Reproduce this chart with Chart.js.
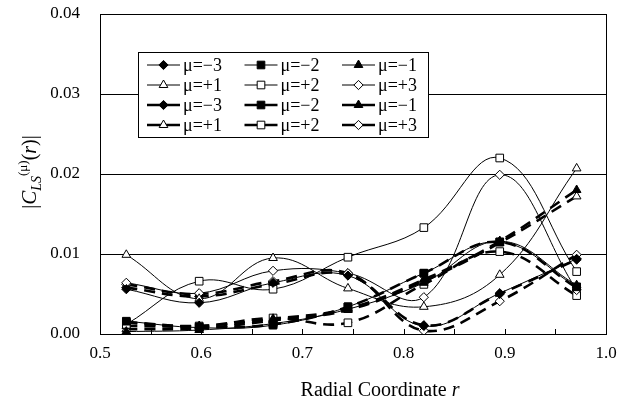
<!DOCTYPE html>
<html>
<head>
<meta charset="utf-8">
<script src="https://cdn.jsdelivr.net/npm/chart.js@4.4.0/dist/chart.umd.min.js"></script>
<style>
html,body{margin:0;padding:0;background:#fff;}
</style>
</head>
<body>
<canvas id="chart" width="631" height="404"></canvas>
<script>
// radial positions of the points
const radius = [0.526, 0.598, 0.671, 0.745, 0.820, 0.895, 0.971];
const muLabels = ["μ=−3", "μ=−2", "μ=−1", "μ=+1", "μ=+2", "μ=+3"];
const xTicks = [0.5, 0.6, 0.7, 0.8, 0.9, 1.0];
const yTicks = [0.00, 0.01, 0.02, 0.03, 0.04];

// first set (thin solid curves)
const solidM3 = [0.0056, 0.0039, 0.0064, 0.0073, 0.0010, 0.0051, 0.0094];
const solidM2 = [0.0016, 0.0008, 0.0011, 0.0034, 0.0076, 0.0115, 0.0059];
const solidM1 = [0.0003, 0.0005, 0.0013, 0.0031, 0.0064, 0.0116, 0.0061];
const solidP1 = [0.0099, 0.0044, 0.0095, 0.0057, 0.0034, 0.0074, 0.0207];
const solidP2 = [0.0012, 0.0066, 0.0056, 0.0096, 0.0133, 0.0220, 0.0078];
const solidP3 = [0.0064, 0.0051, 0.0079, 0.0076, 0.0046, 0.0199, 0.0055];

// second set (thick dashed curves)
const dashedM3 = [0.0058, 0.0047, 0.0062, 0.0074, 0.0011, 0.0050, 0.0093];
const dashedM2 = [0.0014, 0.0009, 0.0012, 0.0034, 0.0076, 0.0115, 0.0058];
const dashedM1 = [0.0010, 0.0010, 0.0019, 0.0032, 0.0068, 0.0116, 0.0180];
const dashedP1 = [0.0006, 0.0007, 0.0017, 0.0030, 0.0066, 0.0114, 0.0172];
const dashedP2 = [0.0015, 0.0010, 0.0020, 0.0014, 0.0062, 0.0103, 0.0048];
const dashedP3 = [0.0062, 0.0050, 0.0066, 0.0076, 0.0004, 0.0041, 0.0099];

const solidSets = [solidM3, solidM2, solidM1, solidP1, solidP2, solidP3];
const dashedSets = [dashedM3, dashedM2, dashedM1, dashedP1, dashedP2, dashedP3];

const markerStyle = ["rectRot", "rect", "triangle", "triangle", "rect", "rectRot"];
const markerSize = [4.6, 5.4, 5, 5, 5.4, 4.6];
const markerFilled = [true, true, true, false, false, false];

const serif = "'Liberation Serif', 'Times New Roman', serif";

function makeSet(vals, i, dashed) {
    return {
        label: muLabels[i],
        data: vals.map((v, k) => ({x: radius[k], y: v})),
        borderColor: "#000",
        borderWidth: dashed ? 2.6 : 1,
        borderDash: dashed ? [11, 7] : [],
        tension: 0.4,
        fill: false,
        pointStyle: markerStyle[i],
        pointRadius: markerSize[i],
        pointBackgroundColor: markerFilled[i] ? "#000" : "#fff",
        pointBorderColor: "#000",
        pointBorderWidth: 1,
        dashedSet: dashed
    };
}

let datasets = [];
solidSets.forEach((s, i) => datasets.push(makeSet(s, i, false)));
dashedSets.forEach((s, i) => datasets.push(makeSet(s, i, true)));

// frame, inner ticks, legend box and axis titles
const decor = {
    id: "decor",
    afterDatasetsDraw(chart) {
        const ctx = chart.ctx;
        const a = chart.chartArea;
        const xs = chart.scales.x;
        ctx.save();
        ctx.strokeStyle = "#000";
        ctx.lineWidth = 1;
        ctx.strokeRect(Math.round(a.left) + 0.5, Math.round(a.top) + 0.5,
            Math.round(a.right - a.left), Math.round(a.bottom - a.top));
        // small ticks pointing into the plot
        for (let v = 0.55; v < 1.0; v += 0.05) {
            const px = Math.round(xs.getPixelForValue(v)) + 0.5;
            ctx.beginPath();
            ctx.moveTo(px, a.bottom);
            ctx.lineTo(px, a.bottom - 5);
            ctx.stroke();
        }

        // legend
        const bx = 138, by = 52, bw = 290, bh = 85;
        ctx.fillStyle = "#fff";
        ctx.fillRect(bx, by, bw, bh);
        ctx.strokeRect(bx + 0.5, by + 0.5, bw, bh);
        ctx.font = "18px " + serif;
        ctx.textBaseline = "middle";
        chart.data.datasets.forEach((ds, i) => {
            const row = Math.floor(i / 3), col = i % 3;
            const lx = 147 + col * 97.5, ly = 65 + row * 20;
            ctx.strokeStyle = "#000";
            ctx.lineWidth = ds.dashedSet ? 2.6 : 1;
            ctx.setLineDash([]);
            ctx.beginPath();
            ctx.moveTo(lx, ly);
            ctx.lineTo(lx + 33, ly);
            ctx.stroke();
            ctx.lineWidth = 1;
            ctx.fillStyle = ds.pointBackgroundColor;
            Chart.helpers.drawPoint(ctx, {pointStyle: ds.pointStyle, radius: ds.pointRadius, rotation: 0, borderWidth: 1}, lx + 16.5, ly);
            ctx.fillStyle = "#000";
            ctx.textAlign = "left";
            ctx.fillText(ds.label, lx + 36, ly + 1);
        });

        // x title
        ctx.textBaseline = "alphabetic";
        drawRich(ctx, [
            {t: "Radial Coordinate ", font: "20px " + serif},
            {t: "r", font: "italic 20px " + serif}
        ], 380, 396);

        // y title, rotated
        ctx.translate(36, 172);
        ctx.rotate(-Math.PI / 2);
        drawRich(ctx, [
            {t: "|", font: "20px " + serif},
            {t: "C", font: "italic 21px " + serif},
            {t: "LS", font: "italic 14px " + serif, dy: 5},
            {t: "(μ)", font: "13px " + serif, dy: -9},
            {t: "(", font: "20px " + serif},
            {t: "r", font: "italic 20px " + serif},
            {t: ")|", font: "20px " + serif}
        ], 0, 0);
        ctx.restore();
    }
};

function drawRich(ctx, parts, x, y) {
    let w = 0;
    parts.forEach(p => { ctx.font = p.font; w += ctx.measureText(p.t).width; });
    let cx = x - w / 2;
    ctx.fillStyle = "#000";
    ctx.textAlign = "left";
    parts.forEach(p => {
        ctx.font = p.font;
        ctx.fillText(p.t, cx, y + (p.dy || 0));
        cx += ctx.measureText(p.t).width;
    });
}

new Chart(document.getElementById("chart"), {
    type: "line",
    data: {datasets: datasets},
    options: {
        responsive: false,
        animation: false,
        devicePixelRatio: 1,
        layout: {padding: {top: 14, right: 25, left: 0, bottom: 0}},
        plugins: {legend: {display: false}, tooltip: {enabled: false}},
        scales: {
            x: {
                type: "linear",
                min: xTicks[0],
                max: xTicks[xTicks.length - 1],
                afterFit: s => { s.height = 70; s.paddingLeft = 0; s.paddingRight = 0; },
                afterBuildTicks: s => { s.ticks = xTicks.map(v => ({value: v})); },
                ticks: {
                    padding: 9,
                    color: "#000",
                    font: {family: serif, size: 17},
                    callback: v => v.toFixed(1)
                },
                grid: {display: false, drawTicks: false},
                border: {color: "#000", width: 1}
            },
            y: {
                min: yTicks[0],
                max: yTicks[yTicks.length - 1],
                afterFit: s => { s.width = 100; s.paddingTop = 0; s.paddingBottom = 0; },
                afterBuildTicks: s => { s.ticks = yTicks.map(v => ({value: v})); },
                ticks: {
                    padding: 20,
                    color: "#000",
                    font: {family: serif, size: 17},
                    callback: v => v.toFixed(2)
                },
                grid: {color: "#000", lineWidth: 1, drawTicks: false},
                border: {color: "#000", width: 1}
            }
        }
    },
    plugins: [decor]
});
</script>
</body>
</html>
